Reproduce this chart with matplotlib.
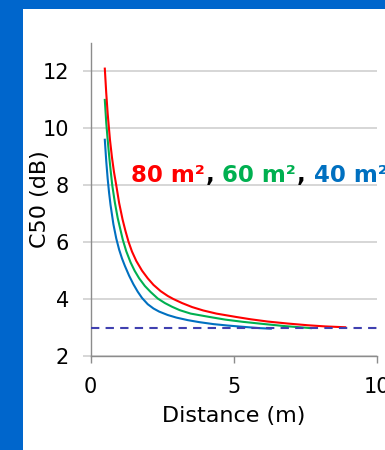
import matplotlib
matplotlib.use("Agg")
import matplotlib.pyplot as plt
from matplotlib.patches import Rectangle

# ---- data ----
blue_x = [0.5, 0.55, 0.6, 0.65, 0.7, 0.8, 0.9, 1.0, 1.1, 1.2, 1.35, 1.5, 1.65, 1.8, 2.0,
          2.2, 2.4, 2.7, 3.0, 3.4, 3.8, 4.3, 4.8, 5.4, 5.9, 6.3]
blue_y = [9.6, 8.85, 8.23, 7.73, 7.31, 6.63, 6.13, 5.74, 5.43, 5.17, 4.82, 4.52, 4.26, 4.04, 3.82,
          3.67, 3.56, 3.44, 3.35, 3.26, 3.19, 3.12, 3.07, 3.02, 2.98, 2.96]

green_x = [0.5, 0.55, 0.6, 0.65, 0.7, 0.76, 0.85, 0.95, 1.05, 1.13, 1.25, 1.4, 1.54, 1.7, 1.9,
           2.1, 2.35, 2.6, 2.85, 3.12, 3.5, 4.17, 4.7, 5.33, 6.0, 6.8, 7.7]
green_y = [11.0, 10.2, 9.6, 9.05, 8.55, 8.0, 7.4, 6.85, 6.42, 6.08, 5.68, 5.29, 5.0, 4.73, 4.46,
           4.25, 4.02, 3.86, 3.73, 3.61, 3.49, 3.37, 3.28, 3.2, 3.13, 3.05, 2.98]

red_x = [0.5, 0.55, 0.6, 0.68, 0.75, 0.82, 0.9, 1.0, 1.12, 1.22, 1.33, 1.45, 1.6, 1.8, 2.0,
         2.2, 2.45, 2.7, 2.9, 3.2, 3.55, 3.94, 4.4, 5.1, 5.6, 6.2, 6.9, 7.6, 8.2, 8.9]
red_y = [12.1, 11.24, 10.52, 9.6, 8.98, 8.47, 8.0, 7.38, 6.8, 6.4, 6.01, 5.67, 5.34, 5.0, 4.73,
         4.5, 4.28, 4.11, 4.0, 3.86, 3.72, 3.6, 3.49, 3.37, 3.29, 3.21, 3.14, 3.08, 3.04, 3.01]

ref_level = 3.0
x_ticks = [0, 5, 10]
y_ticks = [2, 4, 6, 8, 10, 12]
labels = ["80 m²", "60 m²", "40 m²"]
colors = ["#FF0000", "#00B050", "#0070C0"]

W, H = 385, 450
fig = plt.figure(figsize=(W / 100, H / 100), dpi=100, facecolor="#0066CC")
bg = fig.add_axes([23 / W, 0, 1 - 23 / W, (H - 9) / H], zorder=-10)
bg.axis("off")
bg.add_patch(Rectangle((0, 0), 1, 1, transform=bg.transAxes, facecolor="white", edgecolor="none"))

ax = fig.add_axes([90.5 / W, 1 - 356 / H, (376.7 - 90.5) / W, (356 - 43) / H])
ax.set_facecolor("white")

ax.plot(blue_x, blue_y, color=colors[2], lw=1.5, zorder=3)
ax.plot(green_x, green_y, color=colors[1], lw=1.5, zorder=3)
ax.plot(red_x, red_y, color=colors[0], lw=1.5, zorder=3)
ax.plot([0, 10], [ref_level, ref_level], color="#4040B0", lw=1.5, dashes=(4, 3), zorder=4)

ax.set_xlim(0, 10)
ax.set_ylim(2, 13)
ax.set_xticks(x_ticks)
ax.set_yticks(y_ticks)
ax.grid(axis="y", color="#D0D0D0", lw=1.2, zorder=1)
ax.set_axisbelow(True)
for s in ["top", "right"]:
    ax.spines[s].set_visible(False)
for s in ["left", "bottom"]:
    ax.spines[s].set_color("#8C8C8C")
    ax.spines[s].set_linewidth(1.0)
ax.tick_params(axis="x", direction="out", length=5, width=1, color="#8C8C8C",
               labelsize=15, pad=10, labelcolor="black")
ax.tick_params(axis="y", direction="out", length=5.5, width=1.2, color="#D0D0D0",
               labelsize=15, pad=10, labelcolor="black")

ax.set_xlabel("Distance (m)", fontsize=16, labelpad=6.5)
ax.set_ylabel("C50 (dB)", fontsize=16)
ax.yaxis.set_label_coords(-0.14, 0.5)

# multi-coloured annotation
t = ax.text(1.41, 8.1, labels[0], color=colors[0], fontsize=16.5, fontweight="bold",
            va="baseline", ha="left", zorder=5)
pieces = [(",", "black", 0.5), (labels[1], colors[1], 6), (",", "black", 0.5), (labels[2], colors[2], 6)]
prev = t
for txt, col, off in pieces:
    prev = ax.annotate(txt, xy=(1, 0), xycoords=prev, xytext=(off, 0), textcoords="offset points",
                       color=col, fontsize=16.5, fontweight="bold", va="bottom", ha="left",
                       annotation_clip=False, zorder=5)

fig.savefig("out.png", dpi=100, facecolor=fig.get_facecolor())
